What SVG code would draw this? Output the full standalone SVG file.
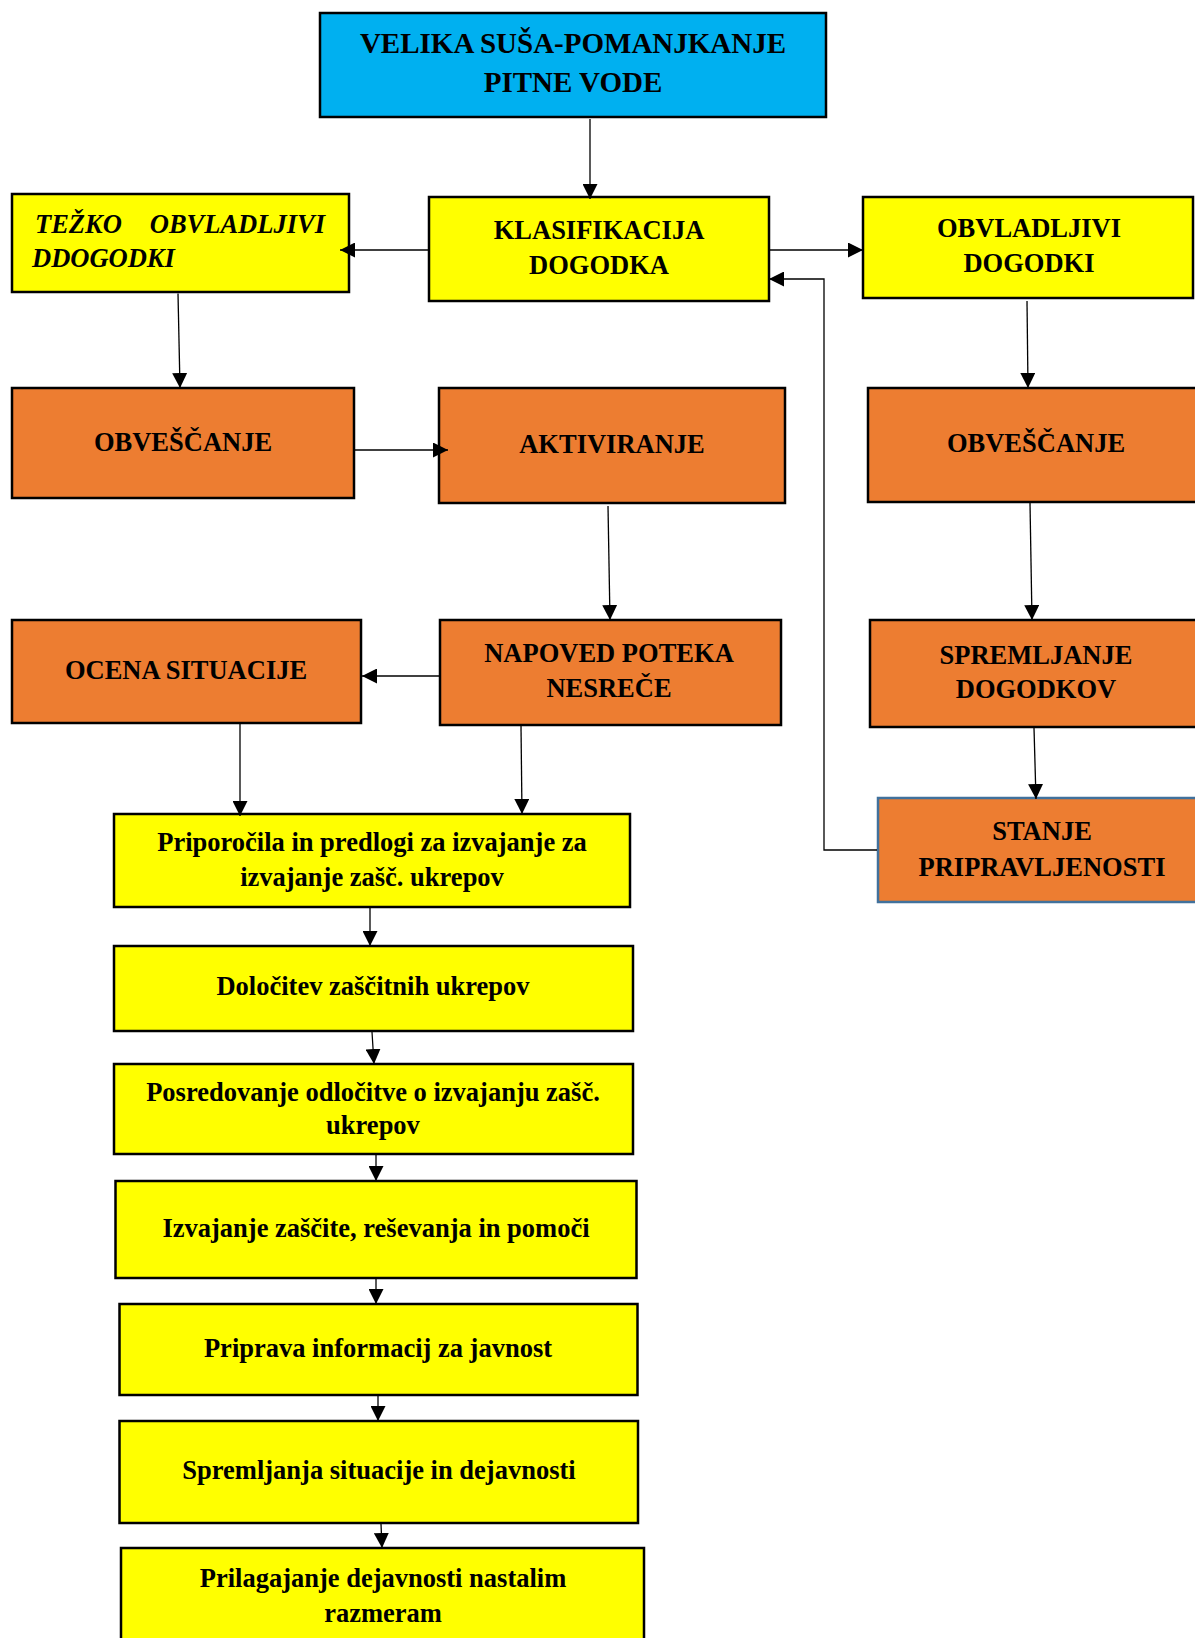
<svg xmlns="http://www.w3.org/2000/svg" width="1195" height="1638" viewBox="0 0 1195 1638">
<style>
  .box { stroke: #000; stroke-width: 2.5; }
  .blue { fill: #00B0F0; }
  .yel { fill: #FFFF00; }
  .ora { fill: #ED7D31; }
  .t { font-family: "Liberation Serif", "Times New Roman", serif; font-weight: bold; font-size: 26.5px; fill: #000; text-anchor: middle; }
  .ti { font-family: "Liberation Serif", "Times New Roman", serif; font-weight: bold; font-style: italic; font-size: 26.5px; fill: #000; }
  .title { font-size: 29px; }
  .c { fill: none; stroke: #000; stroke-width: 1.3; marker-end: url(#ah); }
</style>
<defs>
  <marker id="ah" markerUnits="userSpaceOnUse" markerWidth="15" markerHeight="15" refX="15" refY="7.5" orient="auto" viewBox="0 0 15 15">
    <path d="M0,0 L15,7.5 L0,15 z" fill="#000"/>
  </marker>
</defs>
<rect width="1195" height="1638" fill="#fff"/>

<g id="n-velika">
  <rect class="box blue" x="320" y="13" width="506" height="104"/>
  <text class="t title" x="573" y="53">VELIKA SUŠA-POMANJKANJE</text>
  <text class="t title" x="573" y="92">PITNE VODE</text>
</g>
<g id="n-klasifikacija">
  <rect class="box yel" x="429" y="197" width="340" height="104"/>
  <text class="t" x="599" y="239">KLASIFIKACIJA</text>
  <text class="t" x="599" y="274">DOGODKA</text>
</g>
<g id="n-tezko">
  <rect class="box yel" x="12" y="194" width="337" height="98"/>
  <text class="ti" x="35" y="233">TEŽKO</text>
  <text class="ti" x="325" y="233" text-anchor="end">OBVLADLJIVI</text>
  <text class="ti" x="32" y="267">DDOGODKI</text>
</g>
<g id="n-obvladljivi">
  <rect class="box yel" x="863" y="197" width="330" height="101"/>
  <text class="t" x="1029" y="237">OBVLADLJIVI</text>
  <text class="t" x="1029" y="271.5">DOGODKI</text>
</g>
<g id="n-obvescanje-l">
  <rect class="box ora" x="12" y="388" width="342" height="110"/>
  <text class="t" x="183" y="451">OBVEŠČANJE</text>
</g>
<g id="n-aktiviranje">
  <rect class="box ora" x="439" y="388" width="346" height="115"/>
  <text class="t" x="612" y="453">AKTIVIRANJE</text>
</g>
<g id="n-obvescanje-r">
  <rect class="box ora" x="868" y="388" width="337" height="114"/>
  <text class="t" x="1036" y="452">OBVEŠČANJE</text>
</g>
<g id="n-ocena">
  <rect class="box ora" x="12" y="620" width="349" height="103"/>
  <text class="t" x="186" y="679">OCENA SITUACIJE</text>
</g>
<g id="n-napoved">
  <rect class="box ora" x="440" y="620" width="341" height="105"/>
  <text class="t" x="609" y="662">NAPOVED POTEKA</text>
  <text class="t" x="609" y="697">NESREČE</text>
</g>
<g id="n-spremljanje">
  <rect class="box ora" x="870" y="620" width="335" height="107"/>
  <text class="t" x="1036" y="663.5">SPREMLJANJE</text>
  <text class="t" x="1036" y="698">DOGODKOV</text>
</g>
<g id="n-stanje">
  <rect class="ora" x="878" y="798" width="329" height="104" stroke="#41719C" stroke-width="2.5"/>
  <text class="t" x="1042" y="840">STANJE</text>
  <text class="t" x="1042" y="876">PRIPRAVLJENOSTI</text>
</g>
<g id="n-priporocila">
  <rect class="box yel" x="114" y="814" width="516" height="93"/>
  <text class="t" x="372" y="851">Priporočila in predlogi za izvajanje za</text>
  <text class="t" x="372" y="886">izvajanje zašč. ukrepov</text>
</g>
<g id="n-dolocitev">
  <rect class="box yel" x="114" y="946" width="519" height="85"/>
  <text class="t" x="373" y="995">Določitev zaščitnih ukrepov</text>
</g>
<g id="n-posredovanje">
  <rect class="box yel" x="114" y="1064" width="519" height="90"/>
  <text class="t" x="373" y="1101">Posredovanje odločitve o izvajanju zašč.</text>
  <text class="t" x="373" y="1134">ukrepov</text>
</g>
<g id="n-izvajanje">
  <rect class="box yel" x="115.5" y="1181" width="521" height="97"/>
  <text class="t" x="376" y="1237">Izvajanje zaščite, reševanja in pomoči</text>
</g>
<g id="n-priprava">
  <rect class="box yel" x="119.5" y="1304" width="518" height="91"/>
  <text class="t" x="378" y="1357">Priprava informacij za javnost</text>
</g>
<g id="n-spremljanja">
  <rect class="box yel" x="119.5" y="1421" width="518.5" height="102"/>
  <text class="t" x="379" y="1479">Spremljanja situacije in dejavnosti</text>
</g>
<g id="n-prilagajanje">
  <rect class="box yel" x="121" y="1548" width="523" height="100"/>
  <text class="t" x="383" y="1587">Prilagajanje dejavnosti nastalim</text>
  <text class="t" x="383" y="1622">razmeram</text>
</g>

<g id="connectors">
  <path class="c" d="M590,119 L590,199"/>
  <path class="c" d="M428,250 L340,250"/>
  <path class="c" d="M770,250 L863,250"/>
  <path class="c" d="M877,850 L824,850 L824,279 L769,279"/>
  <path class="c" d="M178,293.5 L180,388"/>
  <path class="c" d="M355,450 L448,450"/>
  <path class="c" d="M608,506 L610,620"/>
  <path class="c" d="M439,676 L362,676"/>
  <path class="c" d="M240,724 L240,816"/>
  <path class="c" d="M521,726 L522,814"/>
  <path class="c" d="M1027,301 L1028,388"/>
  <path class="c" d="M1030,503 L1032,620"/>
  <path class="c" d="M1034,728 L1036,799"/>
  <path class="c" d="M370,908 L370,946"/>
  <path class="c" d="M372,1032 L374,1064"/>
  <path class="c" d="M376,1155 L376,1181"/>
  <path class="c" d="M376,1279 L376,1304"/>
  <path class="c" d="M378,1396 L378,1421"/>
  <path class="c" d="M381,1524 L382,1548"/>
</g>
</svg>
